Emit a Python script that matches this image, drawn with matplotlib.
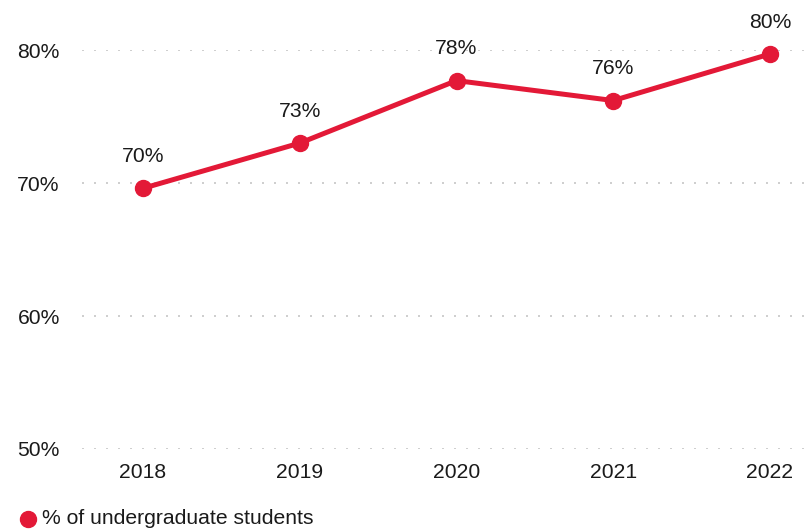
import matplotlib
matplotlib.use('Agg')
import matplotlib.pyplot as plt
from matplotlib.lines import Line2D

plt.rcParams['font.family'] = ['Liberation Sans', 'DejaVu Sans']

# share of undergraduate students, by year
years = ['2018', '2019', '2020', '2021', '2022']
share = [69.6, 73.0, 77.7, 76.2, 79.7]
y_ticks = [50, 60, 70, 80]
series_name = '% of undergraduate students'

red = '#e31937'
ink = '#1a1a1a'
fs = 15.2

fig = plt.figure(figsize=(8.11, 5.31), dpi=100)
ax = fig.add_axes([82 / 811, 82 / 531, 723 / 811, 399 / 531])

x = list(range(len(years)))
ax.plot(x, share, color=red, lw=3.6, marker='o', ms=11.5,
        solid_capstyle='round', clip_on=False, zorder=3)
for xi, v in zip(x, share):
    ax.annotate('{:.0f}%'.format(v), (xi, v), xytext=(0, 16),
                textcoords='offset points', ha='center', va='bottom',
                fontsize=fs, color=ink)

ax.set_xlim(-0.389, 4.223)
ax.set_ylim(50, 80)
ax.set_xticks(x)
ax.set_xticklabels(years)
ax.set_yticks(y_ticks)
ax.set_yticklabels(['{}%'.format(t) for t in y_ticks])
ax.tick_params(length=0, labelsize=fs, colors=ink)
ax.tick_params(axis='y', pad=16)
ax.tick_params(axis='x', pad=10)
ax.grid(axis='y', color='#cfcfcf', lw=1.44, linestyle=(0, (1, 5)))
ax.set_axisbelow(True)
for s in ax.spines.values():
    s.set_visible(False)

# legend drawn by hand at the bottom left
fig.add_artist(Line2D([28 / 811], [1 - 519 / 531], marker='o', ms=11.5,
                      color=red, lw=0, transform=fig.transFigure))
fig.text(42 / 811, 1 - 519 / 531, series_name, fontsize=fs,
         va='center', ha='left', color=ink)

fig.savefig('out.png', dpi=100)
